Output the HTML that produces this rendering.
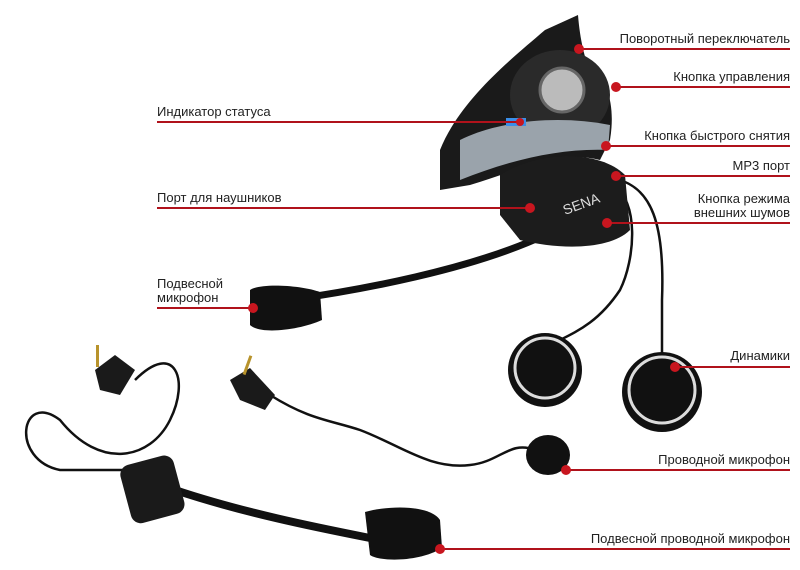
<!DOCTYPE html>
<html><head><meta charset="utf-8"><style>
html,body{margin:0;padding:0;background:#fff;width:800px;height:570px;overflow:hidden}
text{font-family:"Liberation Sans",sans-serif;font-size:13px;fill:#222}
</style></head><body>
<svg width="800" height="570" viewBox="0 0 800 570" xmlns="http://www.w3.org/2000/svg">
<!-- cables -->
<g fill="none" stroke="#111" stroke-width="2.5">
<path d="M620 180 C650 190 665 220 662 300 L662 360"/>
<path d="M612 185 C640 200 635 260 620 290 C600 320 580 330 560 340"/>
<path d="M290 300 C360 290 470 270 545 235" stroke-width="7"/>
<path d="M135 380 C175 340 190 380 170 420 C150 460 100 470 60 420 C20 390 10 460 60 470 L135 470"/>
<path d="M270 395 C310 420 330 420 360 430 C400 445 430 470 470 465 C500 462 510 440 535 450"/>
<path d="M175 490 C250 515 330 530 380 540" stroke-width="8"/>
</g>
<!-- main unit -->
<path d="M440 150 C460 100 510 60 545 30 L578 15 C580 40 585 60 590 70 C610 80 615 110 610 140 L600 160 C560 150 520 170 470 185 L440 190 Z" fill="#1a1a1a"/>
<ellipse cx="560" cy="95" rx="50" ry="45" fill="#2a2a2a"/>
<circle cx="562" cy="90" r="22" fill="#bbb" stroke="#666" stroke-width="3"/>
<path d="M460 140 C500 120 560 115 610 125 L608 150 C560 148 510 160 460 180 Z" fill="#9aa3ab"/>
<rect x="506" y="118" width="20" height="8" fill="#3a8ee8"/>
<path d="M500 175 C540 150 600 150 625 175 L630 230 C610 250 560 250 520 240 L500 215 Z" fill="#1c1c1c"/>
<text x="565" y="215" style="fill:#ddd;font-size:14px" transform="rotate(-20 565 215)">SENA</text>
<!-- boom mic -->
<path d="M250 290 C260 283 300 285 320 292 L322 320 C300 330 260 335 250 325 Z" fill="#111"/>
<!-- speakers -->
<circle cx="545" cy="370" r="37" fill="#111"/><circle cx="545" cy="368" r="30" fill="none" stroke="#ddd" stroke-width="3"/>
<circle cx="662" cy="392" r="40" fill="#111"/><circle cx="662" cy="390" r="33" fill="none" stroke="#ddd" stroke-width="3"/>
<!-- plugs -->
<path d="M95 370 L115 355 L135 370 L120 395 L100 390 Z" fill="#1a1a1a"/>
<rect x="96" y="345" width="3" height="22" fill="#b8932c"/>
<path d="M230 380 L250 368 L275 395 L265 410 L240 400 Z" fill="#1a1a1a"/>
<rect x="246" y="355" width="3" height="20" fill="#b8932c" transform="rotate(20 247 365)"/>
<!-- wired mic -->
<ellipse cx="548" cy="455" rx="22" ry="20" fill="#111"/>
<!-- wired boom -->
<rect x="125" y="460" width="55" height="60" rx="10" fill="#1a1a1a" transform="rotate(-15 150 490)"/>
<path d="M365 512 C390 505 430 505 440 520 L442 548 C420 562 380 562 370 555 Z" fill="#111"/>
<!-- labels -->
<g stroke="#b0121b" stroke-width="2">
<line x1="579" y1="49" x2="790" y2="49"/>
<line x1="616" y1="87" x2="790" y2="87"/>
<line x1="157" y1="122" x2="520" y2="122"/>
<line x1="606" y1="146" x2="790" y2="146"/>
<line x1="616" y1="176" x2="790" y2="176"/>
<line x1="157" y1="208" x2="530" y2="208"/>
<line x1="607" y1="223" x2="790" y2="223"/>
<line x1="157" y1="308" x2="253" y2="308"/>
<line x1="675" y1="367" x2="790" y2="367"/>
<line x1="566" y1="470" x2="790" y2="470"/>
<line x1="440" y1="549" x2="790" y2="549"/>
</g>
<g fill="#c8161f">
<circle cx="579" cy="49" r="5"/><circle cx="616" cy="87" r="5"/><circle cx="520" cy="122" r="4"/>
<circle cx="606" cy="146" r="5"/><circle cx="616" cy="176" r="5"/><circle cx="530" cy="208" r="5"/>
<circle cx="607" cy="223" r="5"/><circle cx="253" cy="308" r="5"/><circle cx="675" cy="367" r="5"/>
<circle cx="566" cy="470" r="5"/><circle cx="440" cy="549" r="5"/>
</g>
<g text-anchor="end">
<text x="790" y="43">Поворотный переключатель</text>
<text x="790" y="81">Кнопка управления</text>
<text x="790" y="140">Кнопка быстрого снятия</text>
<text x="790" y="170">MP3 порт</text>
<text x="790" y="203">Кнопка режима</text>
<text x="790" y="217">внешних шумов</text>
<text x="790" y="360">Динамики</text>
<text x="790" y="464">Проводной микрофон</text>
<text x="790" y="543">Подвесной проводной микрофон</text>
</g>
<text x="157" y="116">Индикатор статуса</text>
<text x="157" y="202">Порт для наушников</text>
<text x="157" y="288">Подвесной</text>
<text x="157" y="302">микрофон</text>
</svg>
</body></html>
